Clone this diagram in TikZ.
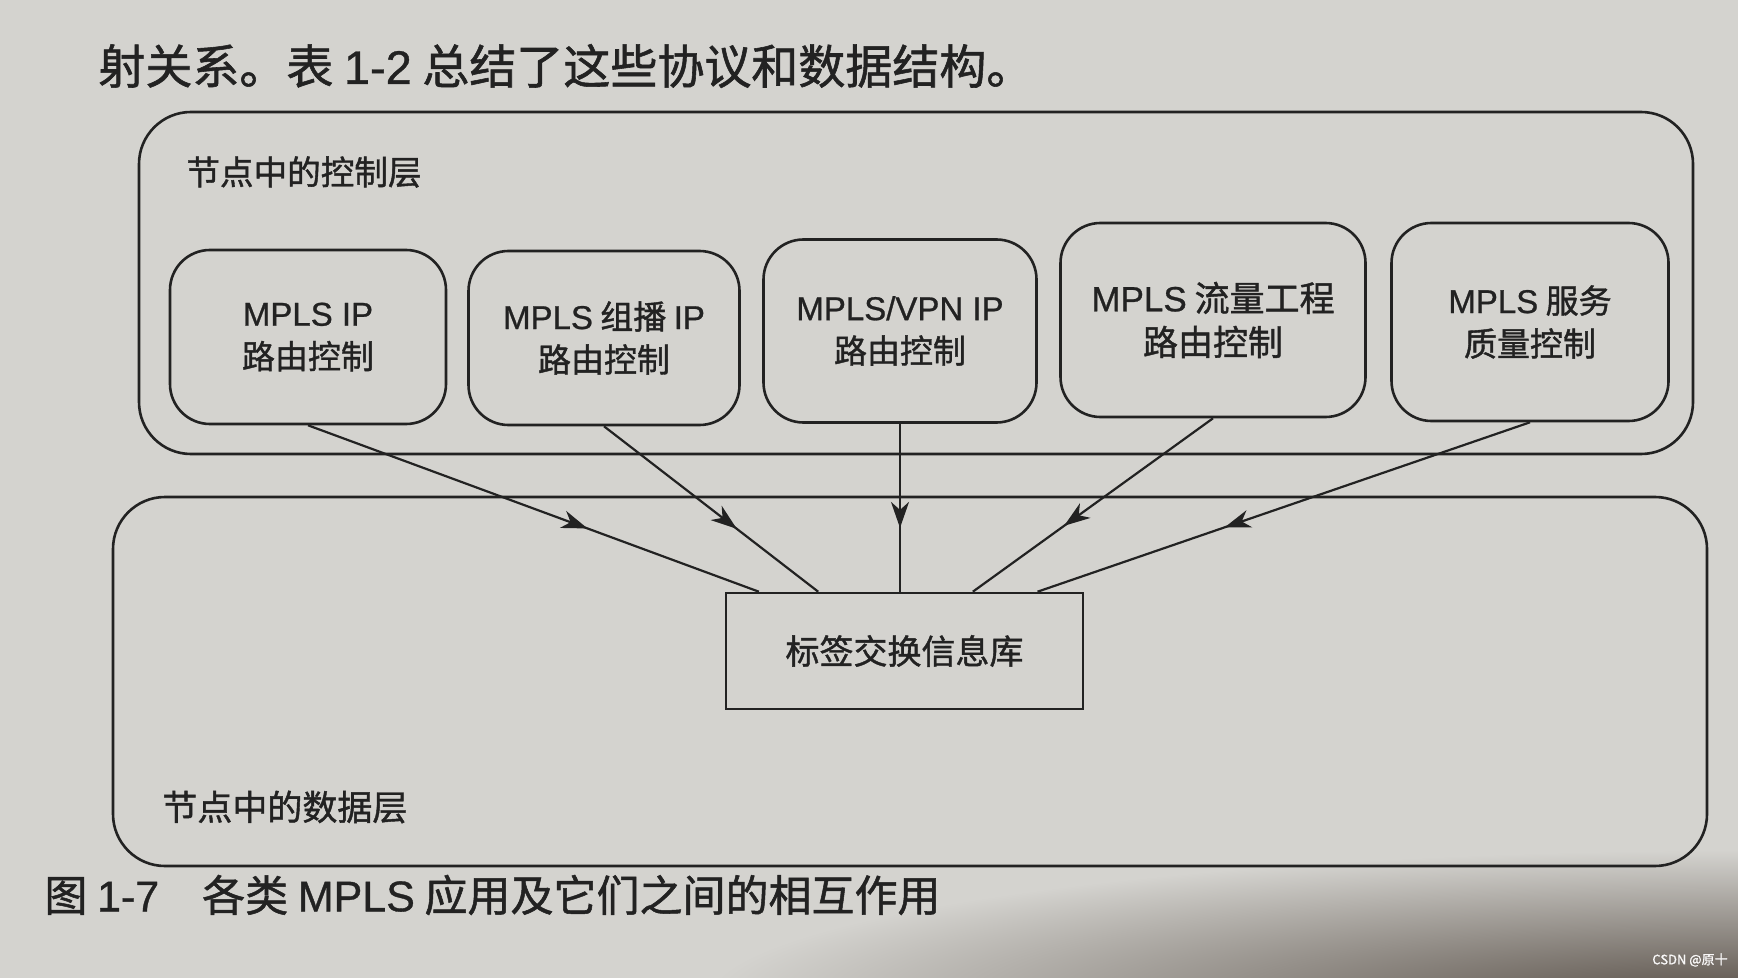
\documentclass[tikz,border=0pt]{standalone}
\usepackage{fontspec}
\setmainfont{Noto Sans CJK SC}[FakeBold=1.2]
\newfontfamily\lat{Liberation Sans}[FakeBold=0.8]
\usetikzlibrary{decorations.markings,arrows.meta,calc}
\definecolor{paper}{HTML}{D4D3CF}
\definecolor{ink}{HTML}{222222}
\definecolor{shadow}{HTML}{574E46}
\tikzset{
  ctrlbox/.style={draw=ink, line width=1.3pt, rounded corners=20pt, align=center,
    font=\fontsize{16.5}{21.5}\selectfont, text=ink, inner sep=0pt},
  layerbox/.style={draw=ink, line width=1.3pt, rounded corners=26pt, inner sep=0pt},
  libbox/.style={draw=ink, line width=1.3pt, inner sep=0pt, text=ink,
    font=\fontsize{17}{20}\selectfont},
  layerlabel/.style={anchor=west, text=ink, inner sep=0pt},
  flow/.style={draw=ink, line width=1.1pt, postaction={decorate},
    decoration={markings, mark=at position 0.62 with {\arrow{Stealth[length=13pt,width=9pt,inset=4pt]}}}}
}
\begin{document}
\begin{tikzpicture}[x=0.5pt,y=-0.5pt]
\useasboundingbox (0,0) rectangle (1738,978);
\fill[paper] (0,0) rectangle (1738,978);
\shade[inner color=shadow, outer color=paper] (1745,1000) ellipse [x radius=520pt, y radius=75pt];

% heading line of the page
\node[anchor=west, inner sep=0pt, text=ink, font=\fontsize{23.5}{26}\selectfont] (head) at (98,66)
  {射关系。表 {\lat 1-2} 总结了这些协议和数据结构。};

% layers
\node[layerbox, minimum width=777pt, minimum height=171pt] (ctrl) at (916,283) {};
\node[layerbox, minimum width=797pt, minimum height=184.5pt] (data) at (910,681.5) {};
\node[layerlabel, font=\fontsize{16.8}{19}\selectfont] (ctrllabel) at (186,172) {节点中的控制层};
\node[layerlabel, font=\fontsize{17.5}{20}\selectfont] (datalabel) at (162,807) {节点中的数据层};

% control boxes
\node[ctrlbox, minimum width=138pt, minimum height=87pt] (b1) at (308,337) {{\lat MPLS IP}\\路由控制};
\node[ctrlbox, minimum width=135.5pt, minimum height=87pt] (b2) at (604,338) {{\lat MPLS} 组播 {\lat IP}\\路由控制};
\node[ctrlbox, minimum width=136.5pt, minimum height=91.5pt] (b3) at (900,331) {{\lat MPLS/VPN IP}\\路由控制};
\node[ctrlbox, minimum width=152.5pt, minimum height=97pt, font=\fontsize{17.5}{22}\selectfont] (b4) at (1213,320) {{\lat MPLS} 流量工程\\路由控制};
\node[ctrlbox, minimum width=138.5pt, minimum height=99pt] (b5) at (1530,322) {{\lat MPLS} 服务\\质量控制};

% label switching information base
\node[libbox, minimum width=178.5pt, minimum height=58pt] (lib) at (904.5,651) {标签交换信息库};

\coordinate (t1) at ($(lib.north west)!0.095!(lib.north east)$);
\coordinate (t2) at ($(lib.north west)!0.26!(lib.north east)$);
\coordinate (t4) at ($(lib.north west)!0.69!(lib.north east)$);
\coordinate (t5) at ($(lib.north west)!0.87!(lib.north east)$);
\coordinate (t3) at (b3.south |- lib.north);

\draw[flow] (b1.south) -- (t1);
\draw[flow] (b2.south) -- (t2);
\draw[flow] (b3.south) -- (t3);
\draw[flow] (b4.south) -- (t4);
\draw[flow] (b5.south) -- (t5);

% caption
\node[anchor=west, inner sep=0pt, text=ink, font=\fontsize{21.5}{24}\selectfont] (caption) at (44,895)
  {图 {\lat 1-7}\hspace{1em}各类 {\lat MPLS} 应用及它们之间的相互作用};

% watermark
\node[anchor=east, inner sep=0pt, text=white!85!paper, font=\fontsize{6.5}{8}\selectfont] (mark) at (1728,960)
  {CSDN @原十};
\end{tikzpicture}
\end{document}
